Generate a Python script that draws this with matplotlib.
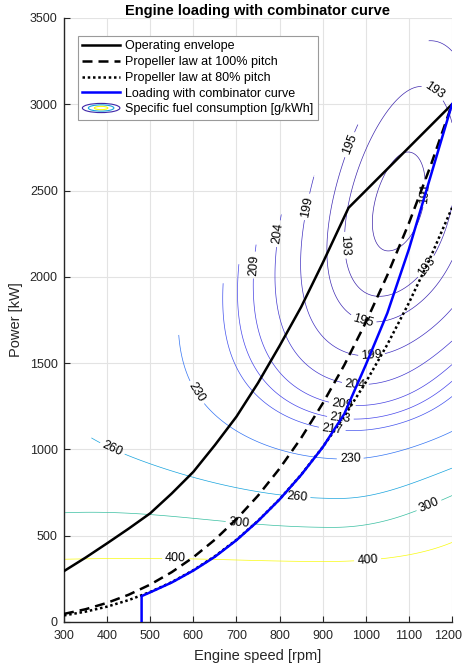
import numpy as np
import matplotlib
matplotlib.use("Agg")
import matplotlib.pyplot as plt
import matplotlib.transforms as mtransforms
from matplotlib.colors import LinearSegmentedColormap, Normalize
from matplotlib.legend_handler import HandlerBase
from matplotlib.patches import Ellipse

plt.rcParams['font.family'] = ['Liberation Sans', 'DejaVu Sans']

# ---------------- data ----------------
speed_env = [300, 350, 400, 450, 500, 550, 600, 650, 700, 750, 800, 850, 900, 960, 1200]
power_env = [295, 373, 456, 541, 630, 745, 870, 1025, 1190, 1385, 1600, 1825, 2080, 2400, 3000]

speed_prop = [300, 350, 400, 450, 500, 550, 600, 650, 700, 750, 800, 850, 900,
              950, 1000, 1050, 1100, 1150, 1200]
power_prop100 = [47, 74, 111, 158, 217, 289, 375, 477, 596, 732, 889, 1066, 1266,
                 1488, 1736, 2010, 2311, 2641, 3000]
power_prop80 = [38, 60, 89, 127, 174, 231, 300, 381, 476, 586, 711, 853, 1013,
                1191, 1389, 1608, 1849, 2113, 2400]

speed_comb = [480, 480, 500, 550, 600, 650, 700, 750, 800, 850, 900, 950, 1000,
              1050, 1100, 1150, 1200]
power_comb = [0, 150, 172, 229, 298, 378, 474, 585, 710, 852, 1012, 1205, 1490,
              1790, 2160, 2580, 3000]

sfc_levels = [191, 193, 195, 199, 204, 209, 213, 217, 230, 260, 300, 400]

# SFC map model parameters (estimated from the contour positions)
A0, A1, P_OPT = 100454.0, 107.4, 2420.0        # SFC along valley: A0/P + A1 + A2*P
NC0, NC1 = 880.0, 0.08                           # valley speed vs power
CL, D0, D1 = 0.0002, 250.0, 0.5                  # low-speed side
CR0 = 0.00016                                    # high-speed side
CR1, PR1, WR1 = 0.00068, 500.0, 380.0
CR2, PR2, WR2 = 0.00006, 1400.0, 300.0
TORQUE_LIMIT = 2.94                              # map defined for P <= limit * n

# label anchor points (n, P) per level
label_pts = {
    191: [(1130, 2484)],
    193: [(1156, 3070), (963, 2184), (1130, 2078)],
    195: [(975, 2754), (991, 1721)],
    199: [(875, 2400), (1014, 1528)],
    204: [(801, 2249), (975, 1354)],
    209: [(743, 2068), (944, 1232)],
    213: [(940, 1155)],
    217: [(921, 1093)],
    230: [(592, 1305), (964, 939)],
    260: [(407, 977), (840, 717)],
    300: [(706, 572), (1151, 649)],
    400: [(559, 375), (1004, 363)],
}

# ---------------- SFC field ----------------
A2 = A0 / P_OPT ** 2
n_grid = np.linspace(300, 1200, 451)
p_grid = np.linspace(5, 3500, 800)
N, P = np.meshgrid(n_grid, p_grid)
g = A0 / P + A1 + A2 * P
nc = NC0 + NC1 * P
dn = N - nc
D = D0 + D1 * P
hL = CL * dn ** 2 * np.exp(-(dn / D) ** 2)
cR = (CR0 + CR1 * np.exp(-((P - PR1) / WR1) ** 2)
      + CR2 * np.exp(-((P - PR2) / WR2) ** 2))
hR = cR * dn ** 2
Z = g + np.where(dn < 0, hL, hR)
Z = np.ma.masked_where(P > TORQUE_LIMIT * N, Z)

parula = LinearSegmentedColormap.from_list('parula_like', [
    (0.00, '#3E26A8'), (0.10, '#4746EB'), (0.20, '#2F7CF5'), (0.30, '#1C9DE2'),
    (0.40, '#0CB2D0'), (0.50, '#2BBDA8'), (0.60, '#65C586'), (0.70, '#ACC057'),
    (0.80, '#E7B63A'), (0.90, '#F5D02E'), (1.00, '#F9FB0E')])
norm = Normalize(min(sfc_levels), max(sfc_levels))

# ---------------- figure ----------------
axis_col = '#262626'
fig = plt.figure(figsize=(4.64, 6.70), dpi=100)
ax = fig.add_axes([64 / 464, 48 / 670, 388 / 464, 604 / 670])

for lev in sfc_levels:
    cs = ax.contour(N, P, Z, levels=[lev], colors=[parula(norm(lev))],
                    linewidths=0.5, zorder=2)
    ax.clabel(cs, manual=label_pts[lev], inline=True, inline_spacing=3,
              fontsize=9, colors='k', fmt='%d')

lw = 1.8
ax.plot(speed_env, power_env, color='k', lw=lw, zorder=4,
        label='Operating envelope')
ax.plot(speed_prop, power_prop100, color='k', lw=lw, ls=(0, (4, 2.4)), zorder=4,
        label='Propeller law at 100% pitch')
ax.plot(speed_prop, power_prop80, color='k', lw=lw, ls=(0, (1, 1.1)), zorder=4,
        label='Propeller law at 80% pitch')
ax.plot(speed_comb, power_comb, color=(0, 0, 1), lw=lw, zorder=5,
        label='Loading with combinator curve')

ax.set_xlim(300, 1200)
ax.set_ylim(0, 3500)
ax.set_xticks(np.arange(300, 1201, 100))
ax.set_yticks(np.arange(0, 3501, 500))
ax.grid(True, color='#e3e3e3', lw=0.8, zorder=0)
ax.set_axisbelow(True)
for s in ['top', 'right']:
    ax.spines[s].set_visible(False)
for s in ['left', 'bottom']:
    ax.spines[s].set_linewidth(1.0)
    ax.spines[s].set_color(axis_col)
ax.tick_params(direction='in', length=4, width=0.8, labelsize=9,
               top=False, right=False, color=axis_col, labelcolor=axis_col)
ax.tick_params(axis='x', pad=5.5)
ax.tick_params(axis='y', pad=4.5)
ax.set_xlabel('Engine speed [rpm]', fontsize=10.5, labelpad=5, color=axis_col)
ax.set_ylabel('Power [kW]', fontsize=10.5, labelpad=5, color=axis_col)
ax.set_title('Engine loading with combinator curve', fontsize=10.5,
             fontweight='bold', pad=2)

# keep the last x tick label inside the figure
fig.canvas.draw()
last = ax.get_xticklabels()[-1]
last.set_transform(last.get_transform() +
                   mtransforms.ScaledTranslation(-4 / 100, 0, fig.dpi_scale_trans))


class ContourProxy:
    pass


class HandlerEllipses(HandlerBase):
    def create_artists(self, legend, orig_handle, xdescent, ydescent, width,
                       height, fontsize, trans):
        cx = width / 2 - xdescent
        cy = height / 2 - ydescent
        arts = []
        for frac, lev in zip([1.0, 0.68, 0.36], [191, 260, 400]):
            e = Ellipse((cx, cy), width * frac, height * 1.05 * frac, fill=False,
                        edgecolor=parula(norm(lev)), lw=0.8, transform=trans)
            arts.append(e)
        return arts


handles, labels = ax.get_legend_handles_labels()
handles.append(ContourProxy())
labels.append('Specific fuel consumption [g/kWh]')
leg = ax.legend(handles, labels, loc='upper left',
                bbox_to_anchor=(14 / 388, (604 - 18) / 604), borderaxespad=0,
                fontsize=9, fancybox=False, framealpha=1, edgecolor='#9a9a9a',
                handlelength=3.0, handletextpad=0.4, labelspacing=0.3,
                borderpad=0.35, handler_map={ContourProxy: HandlerEllipses()})
leg.get_frame().set_linewidth(0.8)
leg.set_zorder(10)

fig.savefig('out.png', dpi=100)
